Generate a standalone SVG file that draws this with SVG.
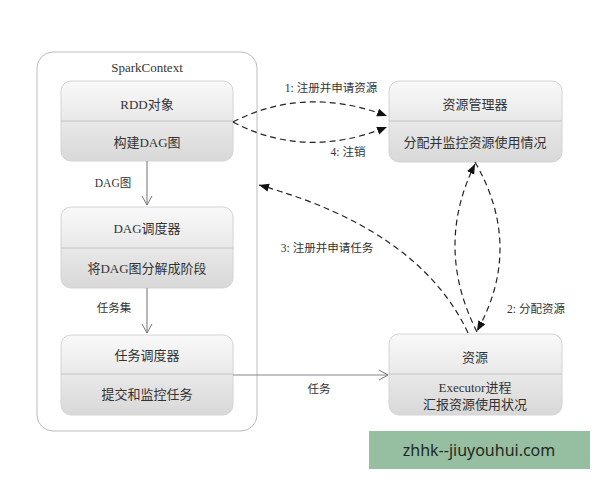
<svg xmlns="http://www.w3.org/2000/svg" width="600" height="480" viewBox="0 0 600 480">
<defs>
<linearGradient id="g" x1="0" y1="0" x2="0" y2="1">
<stop offset="0" stop-color="#f9f9f9"/>
<stop offset="1" stop-color="#d8d8d8"/>
</linearGradient>
<marker id="open" markerWidth="12" markerHeight="12" refX="10" refY="6" orient="auto" markerUnits="userSpaceOnUse">
<path d="M1,1 L10,6 L1,11" fill="none" stroke="#777" stroke-width="1"/>
</marker>
<marker id="fill" markerWidth="12" markerHeight="10" refX="10" refY="5" orient="auto" markerUnits="userSpaceOnUse">
<path d="M0,1 L10,5 L0,9 Z" fill="#111"/>
</marker>
</defs>
<style>
text{font-family:"Liberation Serif","Noto Sans CJK SC",serif;fill:#333;text-anchor:middle}
.t{font-size:13px}
.l{font-size:11.5px}
.box{fill:url(#g);stroke:#d4d4d4;stroke-width:1}
.div{stroke:#c4c4c4;stroke-width:1}
.solid{fill:none;stroke:#888;stroke-width:1.2}
.dash{fill:none;stroke:#222;stroke-width:1.2;stroke-dasharray:6,4}
</style>
<rect width="600" height="480" fill="#fff"/>
<g id="sparkcontext">
<rect x="37" y="52" width="220" height="379" rx="16" fill="#fff" stroke="#bdbdbd" stroke-width="1"/>
<text class="t" x="147" y="72">SparkContext</text>
</g>
<g id="rdd">
<rect class="box" x="61" y="81" width="172" height="80" rx="10"/>
<line class="div" x1="61" y1="121" x2="233" y2="121"/>
<text class="t" x="147" y="109">RDD对象</text>
<text class="t" x="147" y="147">构建DAG图</text>
</g>
<g id="dagscheduler">
<rect class="box" x="61" y="207" width="172" height="81" rx="10"/>
<line class="div" x1="61" y1="248" x2="233" y2="248"/>
<text class="t" x="147" y="233">DAG调度器</text>
<text class="t" x="147" y="273">将DAG图分解成阶段</text>
</g>
<g id="taskscheduler">
<rect class="box" x="61" y="335" width="172" height="80" rx="10"/>
<line class="div" x1="61" y1="374" x2="233" y2="374"/>
<text class="t" x="147" y="360">任务调度器</text>
<text class="t" x="147" y="399">提交和监控任务</text>
</g>
<g id="resourcemanager">
<rect class="box" x="389" y="81" width="173" height="81" rx="10"/>
<line class="div" x1="389" y1="121" x2="562" y2="121"/>
<text class="t" x="475" y="109">资源管理器</text>
<text class="t" x="475" y="147">分配并监控资源使用情况</text>
</g>
<g id="resource">
<rect class="box" x="389" y="334" width="173" height="81" rx="10"/>
<line class="div" x1="389" y1="374" x2="562" y2="374"/>
<text class="t" x="475" y="362">资源</text>
<text class="t" x="475" y="392">Executor进程</text>
<text class="t" x="475" y="409">汇报资源使用状况</text>
</g>
<g id="connectors">
<path class="solid" d="M147,161 L147,205" marker-end="url(#open)"/>
<path class="solid" d="M147,288 L147,333" marker-end="url(#open)"/>
<path class="solid" d="M233,375 L388,375" marker-end="url(#open)"/>
<path class="dash" d="M233,122 Q305,85 387,116" marker-end="url(#fill)"/>
<path class="dash" d="M233,122 Q305,160 387,127" marker-end="url(#fill)"/>
<path class="dash" d="M477,332 Q434,247 475,164" marker-end="url(#fill)"/>
<path class="dash" d="M475,162 Q524,247 477,331" marker-end="url(#fill)"/>
<path class="dash" d="M468,333 Q420,230 259,185" marker-end="url(#fill)"/>
<text class="l" x="331" y="92">1: 注册并申请资源</text>
<text class="l" x="348" y="156">4: 注销</text>
<text class="l" x="327" y="252">3: 注册并申请任务</text>
<text class="l" x="536" y="313">2: 分配资源</text>
<text class="l" x="319" y="393">任务</text>
<text class="l" x="113" y="187">DAG图</text>
<text class="l" x="114" y="312">任务集</text>
</g>
<g id="watermark">
<rect x="369" y="431" width="221" height="38" fill="#96bea0"/>
<text x="479" y="456" style="font-family:'Noto Sans','Liberation Sans',sans-serif;font-size:16px;fill:#1f2a24">zhhk--jiuyouhui.com</text>
</g>
</svg>
